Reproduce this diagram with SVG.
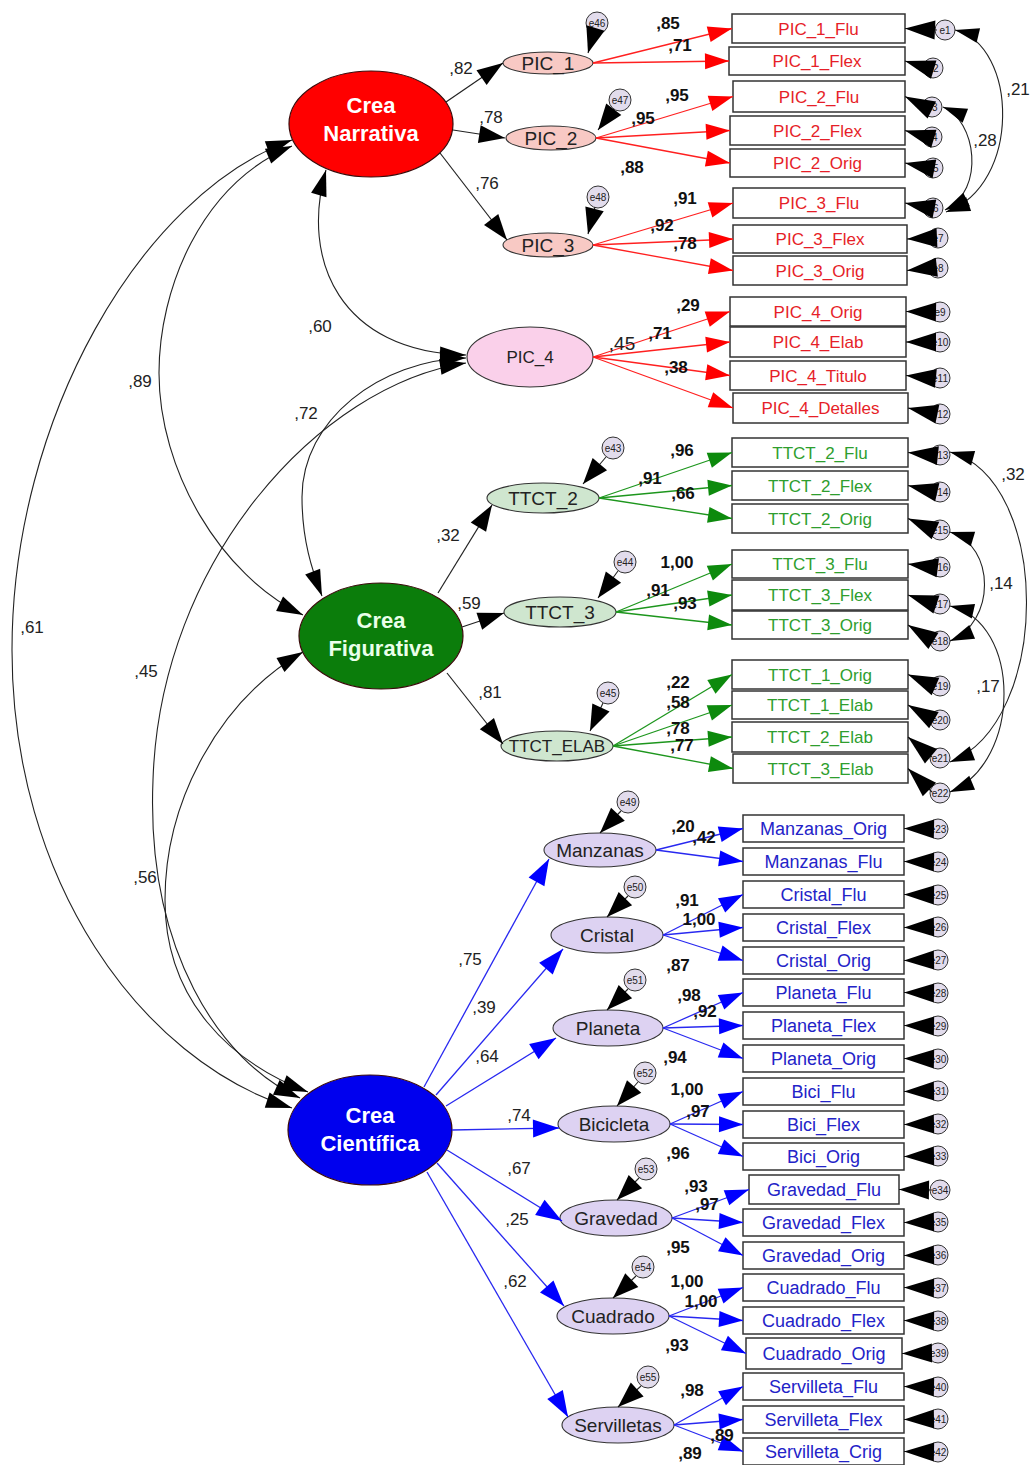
<svg xmlns="http://www.w3.org/2000/svg" width="1036" height="1465" viewBox="0 0 1036 1465">
<style>
.lat{stroke:#3a0a0a;stroke-width:1.2}
.big{font:bold 22px "Liberation Sans",Arial,sans-serif;fill:#fff;text-anchor:middle}
.fo{stroke:#333;stroke-width:1.1}
.fot{font:19px "Liberation Sans",Arial,sans-serif;fill:#222;text-anchor:middle}
.box{fill:#fff;stroke:#333;stroke-width:1.5}
.bt{font:17px "Liberation Sans",Arial,sans-serif;text-anchor:middle}
.bs{font:18px "Liberation Sans",Arial,sans-serif;text-anchor:middle;fill:#2323c8}
.r{fill:#e61e28}.g{fill:#2e9e2e}
.err{fill:#e2dcec;stroke:#333;stroke-width:1}
.et{font:10px "Liberation Sans",Arial,sans-serif;fill:#222;text-anchor:middle}
.ld{font:bold 17px "Liberation Sans",Arial,sans-serif;fill:#111;text-anchor:middle}
.lr{font:17px "Liberation Sans",Arial,sans-serif;fill:#222;text-anchor:middle}
.cr{stroke:#ff2020;stroke-width:1.3;fill:none;marker-end:url(#aR)}
.cg{stroke:#1d961d;stroke-width:1.3;fill:none;marker-end:url(#aG)}
.cb{stroke:#2828f0;stroke-width:1.3;fill:none;marker-end:url(#aB)}
.ck{stroke:#222;stroke-width:1.2;fill:none;marker-end:url(#aK)}
.cbs{stroke:#2828f0;stroke-width:1.3;fill:none;marker-end:url(#aBS)}
.ce{stroke:#222;stroke-width:1.1;fill:none;marker-end:url(#aE)}
.cs{stroke:#222;stroke-width:1.1;fill:none;marker-end:url(#aS)}
.cv{stroke:#222;stroke-width:1.1;fill:none;marker-start:url(#aC);marker-end:url(#aC)}
.cw{stroke:#222;stroke-width:1.1;fill:none;marker-start:url(#aW);marker-end:url(#aW)}
</style>
<defs>
<marker id="aR" markerUnits="userSpaceOnUse" markerWidth="24" markerHeight="16" refX="24" refY="8" orient="auto" overflow="visible"><path d="M0,0L24,8L0,16z" fill="#ff0000"/></marker>
<marker id="aG" markerUnits="userSpaceOnUse" markerWidth="24" markerHeight="16" refX="24" refY="8" orient="auto" overflow="visible"><path d="M0,0L24,8L0,16z" fill="#0d8a0d"/></marker>
<marker id="aB" markerUnits="userSpaceOnUse" markerWidth="24" markerHeight="16" refX="24" refY="8" orient="auto" overflow="visible"><path d="M0,0L24,8L0,16z" fill="#0000ff"/></marker>
<marker id="aBS" markerUnits="userSpaceOnUse" markerWidth="26" markerHeight="18" refX="26" refY="9" orient="auto" overflow="visible"><path d="M0,0L26,9L0,18z" fill="#0000ff"/></marker>
<marker id="aK" markerUnits="userSpaceOnUse" markerWidth="26" markerHeight="18" refX="26" refY="9" orient="auto" overflow="visible"><path d="M0,0L26,9L0,18z" fill="#000"/></marker>
<marker id="aE" markerUnits="userSpaceOnUse" markerWidth="30" markerHeight="19" refX="30" refY="9.5" orient="auto" overflow="visible"><path d="M0,0L30,9.5L0,19z" fill="#000"/></marker>
<marker id="aS" markerUnits="userSpaceOnUse" markerWidth="26" markerHeight="19" refX="26" refY="9.5" orient="auto" overflow="visible"><path d="M0,0L26,9.5L0,19z" fill="#000"/></marker>
<marker id="aC" markerUnits="userSpaceOnUse" markerWidth="26" markerHeight="16" refX="26" refY="8" orient="auto-start-reverse" overflow="visible"><path d="M0,0L26,8L0,16z" fill="#000"/></marker>
<marker id="aW" markerUnits="userSpaceOnUse" markerWidth="24" markerHeight="15" refX="24" refY="7.5" orient="auto-start-reverse" overflow="visible"><path d="M0,0L24,7.5L0,15z" fill="#000"/></marker>
</defs>
<rect width="1036" height="1465" fill="#fff"/>

<!-- second-order factors -->
<g id="crea-narrativa"><ellipse cx="371" cy="124" rx="82" ry="53" fill="#ff0000" class="lat"/><text class="big" x="371" y="113">Crea</text><text class="big" x="371" y="141">Narrativa</text></g>
<g id="crea-figurativa"><ellipse cx="381" cy="636" rx="82" ry="53" fill="#0b7d0b" class="lat"/><text class="big" x="381" y="628" style="fill:#eaffea">Crea</text><text class="big" x="381" y="656" style="fill:#eaffea">Figurativa</text></g>
<g id="crea-cientifica"><ellipse cx="370" cy="1130" rx="82" ry="55" fill="#0000ee" class="lat"/><text class="big" x="370" y="1123">Crea</text><text class="big" x="370" y="1151">Científica</text></g>

<!-- first-order factors -->
<g id="pic1"><ellipse cx="548" cy="63" rx="45" ry="11" fill="#f8c9c4" class="fo"/><text class="fot" x="548" y="70">PIC_1</text></g>
<g id="pic2"><ellipse cx="551" cy="138" rx="45" ry="12" fill="#f8c9c4" class="fo"/><text class="fot" x="551" y="145">PIC_2</text></g>
<g id="pic3"><ellipse cx="548" cy="245" rx="45" ry="12" fill="#f8c9c4" class="fo"/><text class="fot" x="548" y="252">PIC_3</text></g>
<g id="pic4"><ellipse cx="530" cy="357" rx="63" ry="30" fill="#fad0ea" class="fo"/><text class="fot" x="530" y="363" style="font-size:17px">PIC_4</text></g>
<g id="ttct2"><ellipse cx="543" cy="498" rx="56" ry="15" fill="#cfe6cf" class="fo"/><text class="fot" x="543" y="505">TTCT_2</text></g>
<g id="ttct3"><ellipse cx="560" cy="612" rx="56" ry="15" fill="#cfe6cf" class="fo"/><text class="fot" x="560" y="619">TTCT_3</text></g>
<g id="ttct-elab"><ellipse cx="557" cy="746" rx="56" ry="15" fill="#cfe6cf" class="fo"/><text class="fot" x="557" y="752" style="font-size:17px">TTCT_ELAB</text></g>
<g id="manzanas"><ellipse cx="600" cy="850" rx="56" ry="17" fill="#ddd2f2" class="fo"/><text class="fot" x="600" y="857">Manzanas</text></g>
<g id="cristal"><ellipse cx="607" cy="935" rx="56" ry="18" fill="#ddd2f2" class="fo"/><text class="fot" x="607" y="942">Cristal</text></g>
<g id="planeta"><ellipse cx="608" cy="1028" rx="55" ry="18" fill="#ddd2f2" class="fo"/><text class="fot" x="608" y="1035">Planeta</text></g>
<g id="bicicleta"><ellipse cx="614" cy="1124" rx="56" ry="18" fill="#ddd2f2" class="fo"/><text class="fot" x="614" y="1131">Bicicleta</text></g>
<g id="gravedad"><ellipse cx="616" cy="1218" rx="56" ry="18" fill="#ddd2f2" class="fo"/><text class="fot" x="616" y="1225">Gravedad</text></g>
<g id="cuadrado"><ellipse cx="613" cy="1316" rx="56" ry="18" fill="#ddd2f2" class="fo"/><text class="fot" x="613" y="1323">Cuadrado</text></g>
<g id="servilletas"><ellipse cx="618" cy="1425" rx="56" ry="18" fill="#ddd2f2" class="fo"/><text class="fot" x="618" y="1432">Servilletas</text></g>

<!-- disturbances of first-order factors -->
<g id="e46"><circle class="err" cx="597" cy="23" r="11"/><text class="et" x="597" y="27">e46</text></g>
<g id="e47"><circle class="err" cx="620" cy="100" r="11"/><text class="et" x="620" y="104">e47</text></g>
<g id="e48"><circle class="err" cx="598" cy="197" r="11"/><text class="et" x="598" y="201">e48</text></g>
<g id="e43"><circle class="err" cx="613" cy="448" r="11"/><text class="et" x="613" y="452">e43</text></g>
<g id="e44"><circle class="err" cx="625" cy="562" r="11"/><text class="et" x="625" y="566">e44</text></g>
<g id="e45"><circle class="err" cx="608" cy="693" r="11"/><text class="et" x="608" y="697">e45</text></g>
<g id="e49"><circle class="err" cx="628" cy="802" r="11"/><text class="et" x="628" y="806">e49</text></g>
<g id="e50"><circle class="err" cx="635" cy="887" r="11"/><text class="et" x="635" y="891">e50</text></g>
<g id="e51"><circle class="err" cx="635" cy="980" r="11"/><text class="et" x="635" y="984">e51</text></g>
<g id="e52"><circle class="err" cx="645" cy="1073" r="11"/><text class="et" x="645" y="1077">e52</text></g>
<g id="e53"><circle class="err" cx="646" cy="1169" r="11"/><text class="et" x="646" y="1173">e53</text></g>
<g id="e54"><circle class="err" cx="643" cy="1267" r="11"/><text class="et" x="643" y="1271">e54</text></g>
<g id="e55"><circle class="err" cx="648" cy="1377" r="11"/><text class="et" x="648" y="1381">e55</text></g>

<!-- observed indicators: PIC -->
<g id="pic-1-flu"><rect class="box" x="732" y="14" width="173" height="29"/><text class="bt r" x="818.5" y="34.5">PIC_1_Flu</text></g>
<g id="pic-1-flex"><rect class="box" x="729" y="47" width="176" height="28"/><text class="bt r" x="817" y="67">PIC_1_Flex</text></g>
<g id="pic-2-flu"><rect class="box" x="733" y="81" width="172" height="31"/><text class="bt r" x="819" y="102.5">PIC_2_Flu</text></g>
<g id="pic-2-flex"><rect class="box" x="730" y="116" width="175" height="29"/><text class="bt r" x="817.5" y="136.5">PIC_2_Flex</text></g>
<g id="pic-2-orig"><rect class="box" x="730" y="149" width="175" height="28"/><text class="bt r" x="817.5" y="169">PIC_2_Orig</text></g>
<g id="pic-3-flu"><rect class="box" x="733" y="188" width="172" height="30"/><text class="bt r" x="819" y="209">PIC_3_Flu</text></g>
<g id="pic-3-flex"><rect class="box" x="733" y="225" width="174" height="28"/><text class="bt r" x="820" y="245">PIC_3_Flex</text></g>
<g id="pic-3-orig"><rect class="box" x="733" y="256" width="174" height="29"/><text class="bt r" x="820" y="276.5">PIC_3_Orig</text></g>
<g id="pic-4-orig"><rect class="box" x="730" y="297" width="176" height="29"/><text class="bt r" x="818" y="317.5">PIC_4_Orig</text></g>
<g id="pic-4-elab"><rect class="box" x="730" y="327" width="176" height="30"/><text class="bt r" x="818" y="348">PIC_4_Elab</text></g>
<g id="pic-4-titulo"><rect class="box" x="730" y="361" width="176" height="29"/><text class="bt r" x="818" y="381.5">PIC_4_Titulo</text></g>
<g id="pic-4-detalles"><rect class="box" x="733" y="393" width="175" height="30"/><text class="bt r" x="820.5" y="414">PIC_4_Detalles</text></g>

<!-- observed indicators: TTCT -->
<g id="ttct-2-flu"><rect class="box" x="732" y="438" width="176" height="29"/><text class="bt g" x="820" y="458.5">TTCT_2_Flu</text></g>
<g id="ttct-2-flex"><rect class="box" x="732" y="471" width="176" height="29"/><text class="bt g" x="820" y="491.5">TTCT_2_Flex</text></g>
<g id="ttct-2-orig"><rect class="box" x="732" y="504" width="176" height="29"/><text class="bt g" x="820" y="524.5">TTCT_2_Orig</text></g>
<g id="ttct-3-flu"><rect class="box" x="732" y="550" width="176" height="28"/><text class="bt g" x="820" y="570">TTCT_3_Flu</text></g>
<g id="ttct-3-flex"><rect class="box" x="732" y="580" width="176" height="30"/><text class="bt g" x="820" y="601">TTCT_3_Flex</text></g>
<g id="ttct-3-orig"><rect class="box" x="732" y="611" width="176" height="28"/><text class="bt g" x="820" y="631">TTCT_3_Orig</text></g>
<g id="ttct-1-orig"><rect class="box" x="732" y="660" width="176" height="29"/><text class="bt g" x="820" y="680.5">TTCT_1_Orig</text></g>
<g id="ttct-1-elab"><rect class="box" x="732" y="691" width="176" height="28"/><text class="bt g" x="820" y="711">TTCT_1_Elab</text></g>
<g id="ttct-2-elab"><rect class="box" x="732" y="722" width="176" height="30"/><text class="bt g" x="820" y="743">TTCT_2_Elab</text></g>
<g id="ttct-3-elab"><rect class="box" x="733" y="754" width="175" height="29"/><text class="bt g" x="820.5" y="774.5">TTCT_3_Elab</text></g>

<!-- observed indicators: science tasks -->
<g id="manzanas-orig"><rect class="box" x="743" y="815" width="161" height="27"/><text class="bs" x="823.5" y="835">Manzanas_Orig</text></g>
<g id="manzanas-flu"><rect class="box" x="743" y="848" width="161" height="27"/><text class="bs" x="823.5" y="868">Manzanas_Flu</text></g>
<g id="cristal-flu"><rect class="box" x="743" y="881" width="161" height="27"/><text class="bs" x="823.5" y="901">Cristal_Flu</text></g>
<g id="cristal-flex"><rect class="box" x="743" y="914" width="161" height="27"/><text class="bs" x="823.5" y="934">Cristal_Flex</text></g>
<g id="cristal-orig"><rect class="box" x="743" y="947" width="161" height="27"/><text class="bs" x="823.5" y="967">Cristal_Orig</text></g>
<g id="planeta-flu"><rect class="box" x="743" y="979" width="161" height="27"/><text class="bs" x="823.5" y="999">Planeta_Flu</text></g>
<g id="planeta-flex"><rect class="box" x="743" y="1012" width="161" height="27"/><text class="bs" x="823.5" y="1032">Planeta_Flex</text></g>
<g id="planeta-orig"><rect class="box" x="743" y="1045" width="161" height="27"/><text class="bs" x="823.5" y="1065">Planeta_Orig</text></g>
<g id="bici-flu"><rect class="box" x="743" y="1078" width="161" height="27"/><text class="bs" x="823.5" y="1098">Bici_Flu</text></g>
<g id="bici-flex"><rect class="box" x="743" y="1111" width="161" height="27"/><text class="bs" x="823.5" y="1131">Bici_Flex</text></g>
<g id="bici-orig"><rect class="box" x="743" y="1143" width="161" height="27"/><text class="bs" x="823.5" y="1163">Bici_Orig</text></g>
<g id="gravedad-flu"><rect class="box" x="749" y="1175" width="150" height="29"/><text class="bs" x="824" y="1196">Gravedad_Flu</text></g>
<g id="gravedad-flex"><rect class="box" x="743" y="1209" width="161" height="27"/><text class="bs" x="823.5" y="1229">Gravedad_Flex</text></g>
<g id="gravedad-orig"><rect class="box" x="743" y="1242" width="161" height="27"/><text class="bs" x="823.5" y="1262">Gravedad_Orig</text></g>
<g id="cuadrado-flu"><rect class="box" x="743" y="1274" width="161" height="27"/><text class="bs" x="823.5" y="1294">Cuadrado_Flu</text></g>
<g id="cuadrado-flex"><rect class="box" x="743" y="1307" width="161" height="27"/><text class="bs" x="823.5" y="1327">Cuadrado_Flex</text></g>
<g id="cuadrado-orig"><rect class="box" x="746" y="1338" width="156" height="31"/><text class="bs" x="824" y="1360">Cuadrado_Orig</text></g>
<g id="servilleta-flu"><rect class="box" x="743" y="1373" width="161" height="27"/><text class="bs" x="823.5" y="1393">Servilleta_Flu</text></g>
<g id="servilleta-flex"><rect class="box" x="743" y="1406" width="161" height="27"/><text class="bs" x="823.5" y="1426">Servilleta_Flex</text></g>
<g id="servilleta-crig"><rect class="box" x="743" y="1438" width="161" height="27"/><text class="bs" x="823.5" y="1458">Servilleta_Crig</text></g>

<!-- measurement errors -->
<g id="errors">
<g id="e1"><circle class="err" cx="945" cy="30" r="10"/><text class="et" x="945" y="34">e1</text></g>
<g id="e2"><circle class="err" cx="933" cy="68" r="10"/><text class="et" x="933" y="72">e2</text></g>
<g id="e3"><circle class="err" cx="932" cy="107" r="10"/><text class="et" x="932" y="111">e3</text></g>
<g id="e4"><circle class="err" cx="932" cy="137" r="10"/><text class="et" x="932" y="141">e4</text></g>
<g id="e5"><circle class="err" cx="933" cy="168" r="10"/><text class="et" x="933" y="172">e5</text></g>
<g id="e6"><circle class="err" cx="933" cy="208" r="10"/><text class="et" x="933" y="212">e6</text></g>
<g id="e7"><circle class="err" cx="938" cy="238" r="10"/><text class="et" x="938" y="242">e7</text></g>
<g id="e8"><circle class="err" cx="938" cy="268" r="10"/><text class="et" x="938" y="272">e8</text></g>
<g id="e9"><circle class="err" cx="940" cy="312" r="10"/><text class="et" x="940" y="316">e9</text></g>
<g id="e10"><circle class="err" cx="940" cy="342" r="10"/><text class="et" x="940" y="346">e10</text></g>
<g id="e11"><circle class="err" cx="940" cy="378" r="10"/><text class="et" x="940" y="382">e11</text></g>
<g id="e12"><circle class="err" cx="940" cy="414" r="10"/><text class="et" x="940" y="418">e12</text></g>
<g id="e13"><circle class="err" cx="940" cy="455" r="10"/><text class="et" x="940" y="459">e13</text></g>
<g id="e14"><circle class="err" cx="940" cy="492" r="10"/><text class="et" x="940" y="496">e14</text></g>
<g id="e15"><circle class="err" cx="940" cy="530" r="10"/><text class="et" x="940" y="534">e15</text></g>
<g id="e16"><circle class="err" cx="940" cy="567" r="10"/><text class="et" x="940" y="571">e16</text></g>
<g id="e17"><circle class="err" cx="940" cy="604" r="10"/><text class="et" x="940" y="608">e17</text></g>
<g id="e18"><circle class="err" cx="940" cy="641" r="10"/><text class="et" x="940" y="645">e18</text></g>
<g id="e19"><circle class="err" cx="940" cy="686" r="10"/><text class="et" x="940" y="690">e19</text></g>
<g id="e20"><circle class="err" cx="940" cy="720" r="10"/><text class="et" x="940" y="724">e20</text></g>
<g id="e21"><circle class="err" cx="940" cy="758" r="10"/><text class="et" x="940" y="762">e21</text></g>
<g id="e22"><circle class="err" cx="940" cy="793" r="10"/><text class="et" x="940" y="797">e22</text></g>
<g id="e23"><circle class="err" cx="938" cy="829" r="10"/><text class="et" x="938" y="833">e23</text></g>
<g id="e24"><circle class="err" cx="938" cy="862" r="10"/><text class="et" x="938" y="866">e24</text></g>
<g id="e25"><circle class="err" cx="938" cy="895" r="10"/><text class="et" x="938" y="899">e25</text></g>
<g id="e26"><circle class="err" cx="938" cy="927" r="10"/><text class="et" x="938" y="931">e26</text></g>
<g id="e27"><circle class="err" cx="938" cy="960" r="10"/><text class="et" x="938" y="964">e27</text></g>
<g id="e28"><circle class="err" cx="938" cy="993" r="10"/><text class="et" x="938" y="997">e28</text></g>
<g id="e29"><circle class="err" cx="938" cy="1026" r="10"/><text class="et" x="938" y="1030">e29</text></g>
<g id="e30"><circle class="err" cx="938" cy="1059" r="10"/><text class="et" x="938" y="1063">e30</text></g>
<g id="e31"><circle class="err" cx="938" cy="1091" r="10"/><text class="et" x="938" y="1095">e31</text></g>
<g id="e32"><circle class="err" cx="938" cy="1124" r="10"/><text class="et" x="938" y="1128">e32</text></g>
<g id="e33"><circle class="err" cx="938" cy="1156" r="10"/><text class="et" x="938" y="1160">e33</text></g>
<g id="e34"><circle class="err" cx="940" cy="1190" r="10"/><text class="et" x="940" y="1194">e34</text></g>
<g id="e35"><circle class="err" cx="938" cy="1222" r="10"/><text class="et" x="938" y="1226">e35</text></g>
<g id="e36"><circle class="err" cx="938" cy="1255" r="10"/><text class="et" x="938" y="1259">e36</text></g>
<g id="e37"><circle class="err" cx="938" cy="1288" r="10"/><text class="et" x="938" y="1292">e37</text></g>
<g id="e38"><circle class="err" cx="938" cy="1321" r="10"/><text class="et" x="938" y="1325">e38</text></g>
<g id="e39"><circle class="err" cx="938" cy="1353" r="10"/><text class="et" x="938" y="1357">e39</text></g>
<g id="e40"><circle class="err" cx="938" cy="1387" r="10"/><text class="et" x="938" y="1391">e40</text></g>
<g id="e41"><circle class="err" cx="938" cy="1419" r="10"/><text class="et" x="938" y="1423">e41</text></g>
<g id="e42"><circle class="err" cx="938" cy="1452" r="10"/><text class="et" x="938" y="1456">e42</text></g>
</g>

<g id="connectors">
<!-- second-order loadings -->
<path class="ck" d="M446,102L503,63"/>
<path class="ck" d="M453,130L505,138"/>
<path class="ck" d="M440,153L507,240"/>
<path class="ck" d="M438,593L492,505"/>
<path class="ck" d="M462,627L504,613"/>
<path class="ck" d="M447,673L503,744"/>
<path class="cbs" d="M424,1087L549,859"/>
<path class="cbs" d="M436,1095L563,949"/>
<path class="cbs" d="M446,1106L556,1038"/>
<path class="cbs" d="M452,1130L559,1128"/>
<path class="cbs" d="M447,1150L562,1221"/>
<path class="cbs" d="M437,1163L564,1306"/>
<path class="cbs" d="M427,1172L568,1417"/>

<!-- disturbance paths -->
<path class="cs" d="M594,33L588,53"/>
<path class="cs" d="M614,109L598,130"/>
<path class="cs" d="M595,207L588,234"/>
<path class="cs" d="M606,457L583,484"/>
<path class="cs" d="M618,571L598,598"/>
<path class="cs" d="M603,703L590,731"/>
<path class="cs" d="M621,811L600,833"/>
<path class="cs" d="M628,896L607,917"/>
<path class="cs" d="M628,989L607,1010"/>
<path class="cs" d="M638,1082L617,1106"/>
<path class="cs" d="M639,1178L617,1200"/>
<path class="cs" d="M636,1276L613,1298"/>
<path class="cs" d="M641,1386L618,1407"/>

<!-- first-order loadings: PIC -->
<path class="cr" d="M593,63L732,28.5"/>
<path class="cr" d="M593,63L729,61"/>
<path class="cr" d="M596,138L733,96.5"/>
<path class="cr" d="M596,138L730,130.5"/>
<path class="cr" d="M596,138L730,163"/>
<path class="cr" d="M593,245L733,203"/>
<path class="cr" d="M593,245L733,239"/>
<path class="cr" d="M593,245L733,270.5"/>
<path class="cr" d="M593,357L730,311.5"/>
<path class="cr" d="M593,357L730,342"/>
<path class="cr" d="M593,357L730,375.5"/>
<path class="cr" d="M593,357L733,408"/>
<!-- first-order loadings: TTCT -->
<path class="cg" d="M599,498L732,452.5"/>
<path class="cg" d="M599,498L732,485.5"/>
<path class="cg" d="M599,498L732,518.5"/>
<path class="cg" d="M616,612L732,564"/>
<path class="cg" d="M616,612L732,595"/>
<path class="cg" d="M616,612L732,625"/>
<path class="cg" d="M613,746L732,674.5"/>
<path class="cg" d="M613,746L732,705"/>
<path class="cg" d="M613,746L732,737"/>
<path class="cg" d="M613,746L733,768.5"/>
<!-- first-order loadings: science tasks -->
<path class="cb" d="M656,850L743,828.5"/>
<path class="cb" d="M656,850L743,861.5"/>
<path class="cb" d="M663,935L743,894.5"/>
<path class="cb" d="M663,935L743,927.5"/>
<path class="cb" d="M663,935L743,960.5"/>
<path class="cb" d="M663,1028L743,992.5"/>
<path class="cb" d="M663,1028L743,1025.5"/>
<path class="cb" d="M663,1028L743,1058.5"/>
<path class="cb" d="M670,1124L743,1091.5"/>
<path class="cb" d="M670,1124L743,1124.5"/>
<path class="cb" d="M670,1124L743,1156.5"/>
<path class="cb" d="M672,1218L749,1189.5"/>
<path class="cb" d="M672,1218L743,1222.5"/>
<path class="cb" d="M672,1218L743,1255.5"/>
<path class="cb" d="M669,1316L743,1287.5"/>
<path class="cb" d="M669,1316L743,1320.5"/>
<path class="cb" d="M669,1316L746,1353.5"/>
<path class="cb" d="M674,1425L743,1386.5"/>
<path class="cb" d="M674,1425L743,1419.5"/>
<path class="cb" d="M674,1425L743,1451.5"/>

<!-- error paths into indicators -->
<path class="ce" d="M937,30L905,28.5"/>
<path class="ce" d="M925,67L905,61"/>
<path class="ce" d="M924,106L905,96.5"/>
<path class="ce" d="M924,136L905,130.5"/>
<path class="ce" d="M925,167L905,163"/>
<path class="ce" d="M925,207L905,203"/>
<path class="ce" d="M930,238L907,239"/>
<path class="ce" d="M930,268L907,270.5"/>
<path class="ce" d="M932,312L906,311.5"/>
<path class="ce" d="M932,342L906,342"/>
<path class="ce" d="M932,378L906,375.5"/>
<path class="ce" d="M932,413L908,408"/>
<path class="ce" d="M932,455L908,452.5"/>
<path class="ce" d="M932,491L908,485.5"/>
<path class="ce" d="M932,529L908,518.5"/>
<path class="ce" d="M932,567L908,564"/>
<path class="ce" d="M932,603L908,595"/>
<path class="ce" d="M932,640L908,625"/>
<path class="ce" d="M932,685L908,674.5"/>
<path class="ce" d="M932,719L908,705"/>
<path class="ce" d="M932,757L908,737"/>
<path class="ce" d="M932,792L908,768.5"/>
<path class="ce" d="M930,829L904,828.5"/>
<path class="ce" d="M930,862L904,861.5"/>
<path class="ce" d="M930,895L904,894.5"/>
<path class="ce" d="M930,927L904,927.5"/>
<path class="ce" d="M930,960L904,960.5"/>
<path class="ce" d="M930,993L904,992.5"/>
<path class="ce" d="M930,1026L904,1025.5"/>
<path class="ce" d="M930,1059L904,1058.5"/>
<path class="ce" d="M930,1091L904,1091.5"/>
<path class="ce" d="M930,1124L904,1124.5"/>
<path class="ce" d="M930,1156L904,1156.5"/>
<path class="ce" d="M932,1190L899,1189.5"/>
<path class="ce" d="M930,1222L904,1222.5"/>
<path class="ce" d="M930,1255L904,1255.5"/>
<path class="ce" d="M930,1288L904,1287.5"/>
<path class="ce" d="M930,1321L904,1320.5"/>
<path class="ce" d="M930,1353L902,1353.5"/>
<path class="ce" d="M930,1387L904,1386.5"/>
<path class="ce" d="M930,1419L904,1419.5"/>
<path class="ce" d="M930,1452L904,1451.5"/>

<!-- covariances between factors -->
<path class="cv" d="M292,140C140,195 12,420 12,650C12,880 140,1060 292,1108"/>
<path class="cv" d="M292,146C200,185 159,290 159,373C159,470 220,575 303,615"/>
<path class="cv" d="M326,170C300,260 340,352 466,355"/>
<path class="cv" d="M466,358C380,360 302,420 302,497C302,540 312,570 322,596"/>
<path class="cv" d="M466,363C320,385 160,560 153,780C146,950 220,1062 300,1098"/>
<path class="cv" d="M303,652C220,700 165,800 165,900C165,1000 230,1062 308,1092"/>

<!-- covariances between errors -->
<path class="cw" d="M955,30C1018,45 1022,185 946,212"/>
<path class="cw" d="M943,107C976,120 986,190 945,210"/>
<path class="cw" d="M950,452C1052,480 1052,722 950,762"/>
<path class="cw" d="M950,532C996,546 996,622 950,641"/>
<path class="cw" d="M950,606C1022,622 1022,762 950,792"/>
</g>

<!-- coefficient labels -->
<g id="labels">
<text class="lr" x="461" y="74">,82</text>
<text class="lr" x="491" y="123">,78</text>
<text class="lr" x="487" y="189">,76</text>
<text class="lr" x="448" y="541">,32</text>
<text class="lr" x="469" y="609">,59</text>
<text class="lr" x="490" y="698">,81</text>
<text class="lr" x="470" y="965">,75</text>
<text class="lr" x="484" y="1013">,39</text>
<text class="lr" x="487" y="1062">,64</text>
<text class="lr" x="519" y="1121">,74</text>
<text class="lr" x="519" y="1174">,67</text>
<text class="lr" x="517" y="1225">,25</text>
<text class="lr" x="515" y="1287">,62</text>
<text class="lr" x="320" y="332">,60</text>
<text class="lr" x="140" y="387">,89</text>
<text class="lr" x="306" y="419">,72</text>
<text class="lr" x="32" y="633">,61</text>
<text class="lr" x="146" y="677">,45</text>
<text class="lr" x="145" y="883">,56</text>
<text class="lr" x="1018" y="95">,21</text>
<text class="lr" x="985" y="146">,28</text>
<text class="lr" x="1013" y="480">,32</text>
<text class="lr" x="1001" y="589">,14</text>
<text class="lr" x="988" y="692">,17</text>
<text class="lr" x="622" y="350" style="font-size:19px">,45</text>
<text class="ld" x="668" y="29">,85</text>
<text class="ld" x="680" y="51">,71</text>
<text class="ld" x="677" y="101">,95</text>
<text class="ld" x="643" y="124">,95</text>
<text class="ld" x="632" y="173">,88</text>
<text class="ld" x="685" y="204">,91</text>
<text class="ld" x="662" y="231">,92</text>
<text class="ld" x="685" y="249">,78</text>
<text class="ld" x="688" y="311">,29</text>
<text class="ld" x="660" y="339">,71</text>
<text class="ld" x="676" y="373">,38</text>
<text class="ld" x="682" y="456">,96</text>
<text class="ld" x="650" y="484">,91</text>
<text class="ld" x="683" y="499">,66</text>
<text class="ld" x="677" y="568">1,00</text>
<text class="ld" x="658" y="596">,91</text>
<text class="ld" x="685" y="609">,93</text>
<text class="ld" x="678" y="688">,22</text>
<text class="ld" x="678" y="708">,58</text>
<text class="ld" x="678" y="734">,78</text>
<text class="ld" x="682" y="751">,77</text>
<text class="ld" x="683" y="832">,20</text>
<text class="ld" x="704" y="843">,42</text>
<text class="ld" x="687" y="906">,91</text>
<text class="ld" x="699" y="925">1,00</text>
<text class="ld" x="678" y="971">,87</text>
<text class="ld" x="689" y="1001">,98</text>
<text class="ld" x="705" y="1017">,92</text>
<text class="ld" x="675" y="1063">,94</text>
<text class="ld" x="687" y="1095">1,00</text>
<text class="ld" x="698" y="1117">,97</text>
<text class="ld" x="678" y="1159">,96</text>
<text class="ld" x="696" y="1192">,93</text>
<text class="ld" x="707" y="1210">,97</text>
<text class="ld" x="678" y="1253">,95</text>
<text class="ld" x="687" y="1287">1,00</text>
<text class="ld" x="701" y="1307">1,00</text>
<text class="ld" x="677" y="1351">,93</text>
<text class="ld" x="692" y="1396">,98</text>
<text class="ld" x="722" y="1441">,89</text>
<text class="ld" x="690" y="1459">,89</text>
</g>
</svg>
